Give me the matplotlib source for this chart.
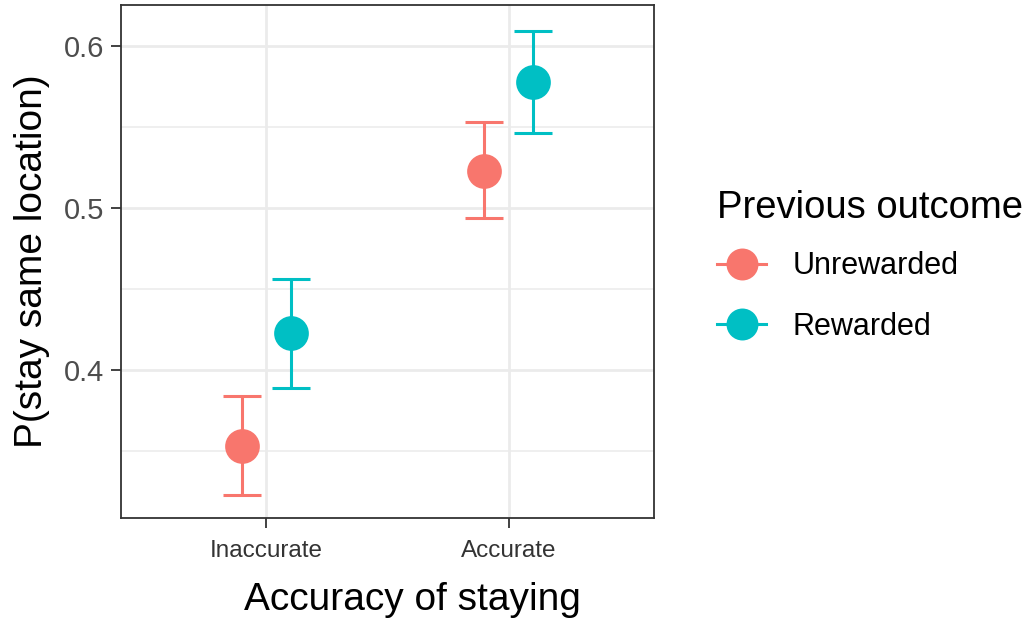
import matplotlib
matplotlib.use("Agg")
import matplotlib.pyplot as plt
from matplotlib.lines import Line2D
import numpy as np

plt.rcParams['font.family'] = ['Liberation Sans', 'DejaVu Sans']

categories = ["Inaccurate", "Accurate"]
groups = ["Unrewarded", "Rewarded"]
colors = ["#F8766D", "#00BFC4"]
means = {"Unrewarded": [0.353, 0.523], "Rewarded": [0.423, 0.578]}
lower = {"Unrewarded": [0.323, 0.494], "Rewarded": [0.389, 0.546]}
upper = {"Unrewarded": [0.384, 0.553], "Rewarded": [0.456, 0.609]}
yticks = [0.4, 0.5, 0.6]
yminor = [0.35, 0.45, 0.55]

fig = plt.figure(figsize=(10.30, 6.21), dpi=100)
ax = fig.add_axes([121/1030, 1-518/621, (654-121)/1030, (518-5)/621])

x = np.arange(1, len(categories)+1)
dodge = [-0.1, 0.1]
for g, c, d in zip(groups, colors, dodge):
    m = np.array(means[g]); lo = np.array(lower[g]); hi = np.array(upper[g])
    ax.errorbar(x + d, m, yerr=[m - lo, hi - m], fmt='none', ecolor=c,
                elinewidth=2.2, capsize=13.5, capthick=2.2, zorder=3)
    ax.plot(x + d, m, 'o', color=c, markersize=25, markeredgewidth=0, zorder=4)

ax.set_xlim(0.4, 2.6)
ax.set_ylim(0.3087, 0.6252)
ax.set_xticks(x)
ax.set_xticklabels(categories, fontsize=17.5, color='#333333')
ax.set_yticks(yticks)
ax.set_yticklabels([f"{v:.1f}" for v in yticks], fontsize=21, color='#4D4D4D')
ax.set_yticks(yminor, minor=True)
ax.tick_params(axis='y', which='minor', length=0)
ax.tick_params(axis='both', which='major', length=7, width=1.3, color='#333333', pad=5)
ax.tick_params(axis='x', which='major', pad=9)
ax.grid(True, which='major', color='#EBEBEB', linewidth=2.0, zorder=0)
ax.grid(True, which='minor', axis='y', color='#EBEBEB', linewidth=1.1, zorder=0)
ax.set_axisbelow(True)
for s in ax.spines.values():
    s.set_color('#333333'); s.set_linewidth(1.3)

ax.set_xlabel("Accuracy of staying", fontsize=28)
ax.xaxis.label.set_va('center')
ax.xaxis.set_label_coords((412-121)/533, (621-600 - (621-518)) / 513)
ax.set_ylabel("P(stay same location)", fontsize=28, labelpad=10)

handles = [Line2D([0], [0], color=c, marker='o', markersize=23, linewidth=2.2,
                  markeredgewidth=0) for c in colors]
leg = fig.legend(handles, groups, loc='upper left', bbox_to_anchor=(702/1030, 1-175/621),
                 frameon=False, fontsize=22, title="Previous outcome", title_fontsize=27.5,
                 handlelength=1.6, labelspacing=1.0, handletextpad=0.85, borderpad=0)
leg._legend_box.align = "left"
leg._legend_box.sep = 18.0

fig.savefig("out.png", dpi=100)
